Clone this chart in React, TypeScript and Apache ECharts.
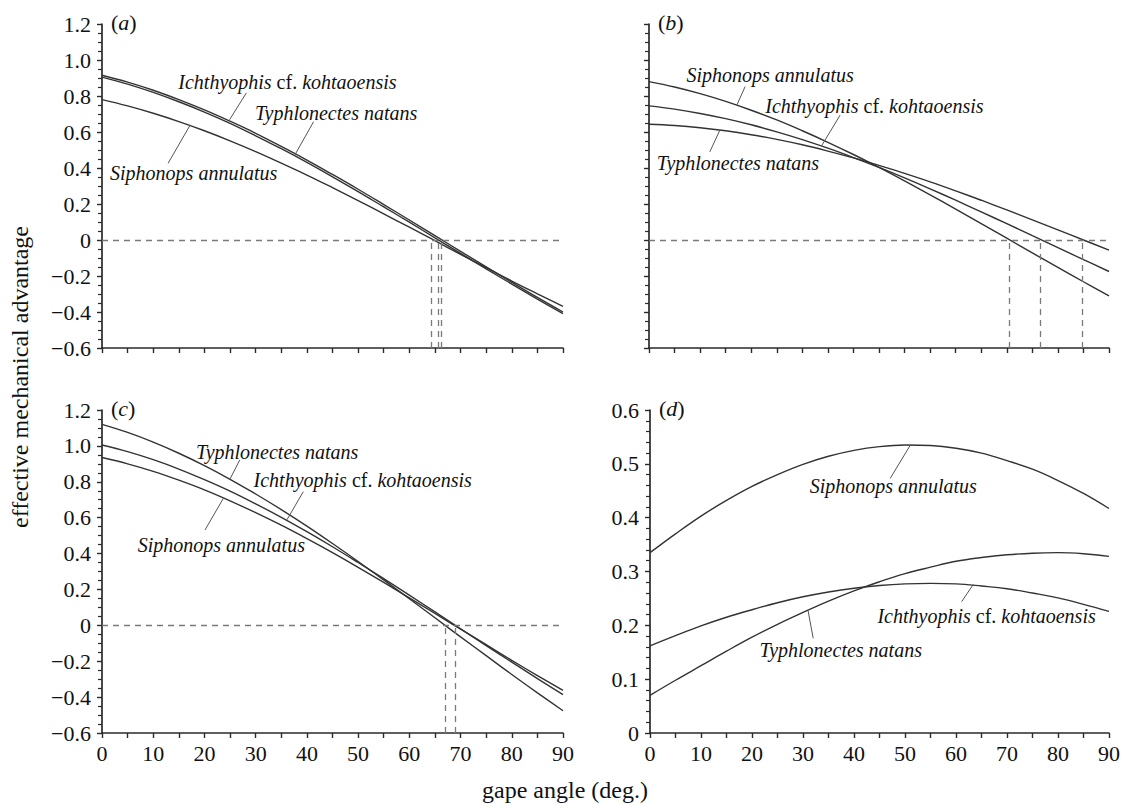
import React, { useEffect, useRef } from "react";
import * as echarts from "echarts";

// gape angle (deg.)
const DEG = [0, 5, 10, 15, 20, 25, 30, 35, 40, 45, 50, 55, 60, 65, 70, 75, 80, 85, 90];

// panel (a)
const A_ICH = [0.915, 0.877, 0.832, 0.78, 0.723, 0.66, 0.593, 0.52, 0.444, 0.364, 0.282, 0.197, 0.111, 0.024, -0.063, -0.149, -0.235, -0.319, -0.4];
const A_TYP = [0.905, 0.866, 0.82, 0.768, 0.711, 0.648, 0.579, 0.507, 0.431, 0.351, 0.269, 0.184, 0.099, 0.012, -0.074, -0.16, -0.245, -0.328, -0.409];
const A_SIP = [0.78, 0.745, 0.704, 0.658, 0.607, 0.551, 0.491, 0.427, 0.361, 0.291, 0.219, 0.145, 0.071, -0.004, -0.08, -0.154, -0.228, -0.299, -0.369];
const A_ZERO = [64.2, 65.7, 66.2];

// panel (b)
const B_SIP = [0.88, 0.85, 0.813, 0.77, 0.721, 0.667, 0.607, 0.543, 0.475, 0.403, 0.328, 0.251, 0.172, 0.091, 0.01, -0.072, -0.152, -0.232, -0.31];
const B_ICH = [0.745, 0.727, 0.703, 0.674, 0.64, 0.601, 0.558, 0.51, 0.458, 0.403, 0.345, 0.284, 0.221, 0.156, 0.091, 0.024, -0.043, -0.109, -0.175];
const B_TYP = [0.643, 0.636, 0.624, 0.607, 0.585, 0.559, 0.529, 0.494, 0.456, 0.415, 0.37, 0.323, 0.273, 0.221, 0.167, 0.112, 0.056, 0.0, -0.056];
const B_ZERO = [70.4, 76.5, 84.7];

// panel (c)
const C_TYP = [1.12, 1.075, 1.021, 0.959, 0.89, 0.814, 0.732, 0.645, 0.553, 0.456, 0.356, 0.253, 0.148, 0.042, -0.064, -0.169, -0.274, -0.376, -0.476];
const C_ICH = [1.005, 0.968, 0.923, 0.871, 0.812, 0.748, 0.677, 0.602, 0.522, 0.438, 0.35, 0.26, 0.168, 0.075, -0.019, -0.113, -0.205, -0.297, -0.386];
const C_SIP = [0.935, 0.9, 0.858, 0.809, 0.755, 0.694, 0.628, 0.558, 0.483, 0.405, 0.323, 0.239, 0.153, 0.066, -0.021, -0.108, -0.195, -0.28, -0.363];
const C_ZERO = [67.0, 69.0];

// panel (d)
const D_SIP = [0.335, 0.37, 0.403, 0.432, 0.458, 0.48, 0.499, 0.514, 0.525, 0.532, 0.535, 0.534, 0.529, 0.52, 0.506, 0.49, 0.469, 0.445, 0.417];
const D_ICH = [0.162, 0.181, 0.199, 0.215, 0.229, 0.242, 0.253, 0.262, 0.269, 0.274, 0.277, 0.278, 0.277, 0.273, 0.268, 0.26, 0.251, 0.239, 0.226];
const D_TYP = [0.07, 0.098, 0.125, 0.152, 0.178, 0.202, 0.224, 0.245, 0.264, 0.281, 0.296, 0.308, 0.319, 0.326, 0.331, 0.334, 0.335, 0.333, 0.328];

const LBL_ICH = "{i|Ichthyophis} cf. {i|kohtaoensis}";
const LBL_TYP = "{i|Typhlonectes natans}";
const LBL_SIP = "{i|Siphonops annulatus}";

const FONT = "Liberation Serif";
const LINE_COLOR = "#333333";
const AXIS_COLOR = "#2a2a2a";
const DASH_COLOR = "#7a7a7a";

// annotation placement: [label center], [pointer start], [pointer end] in data units
type Ann = { text: string; at: number[]; p1: number[]; p2: number[] };

const PANELS = [
  {
    grid: { left: 102, top: 24, width: 461, height: 324 },
    y: { min: -0.6, max: 1.2, interval: 0.2, minor: 4, labels: true },
    xLabels: false,
    tag: "a",
    zero: A_ZERO,
    series: [
      { v: A_ICH, ann: { text: LBL_ICH, at: [36.2, 0.878], p1: [28.2, 0.818], p2: [24.9, 0.668] } },
      { v: A_TYP, ann: { text: LBL_TYP, at: [45.7, 0.705], p1: [41.3, 0.657], p2: [37.7, 0.475] } },
      { v: A_SIP, ann: { text: LBL_SIP, at: [17.9, 0.372], p1: [12.9, 0.426], p2: [17.2, 0.638] } },
    ],
  },
  {
    grid: { left: 649, top: 24, width: 460, height: 324 },
    y: { min: -0.6, max: 1.2, interval: 0.2, minor: 4, labels: false },
    xLabels: false,
    tag: "b",
    zero: B_ZERO,
    series: [
      { v: B_SIP, ann: { text: LBL_SIP, at: [23.7, 0.917], p1: [18.8, 0.852], p2: [17.2, 0.75] } },
      { v: B_ICH, ann: { text: LBL_ICH, at: [44.1, 0.744], p1: [37.4, 0.694], p2: [33.8, 0.525] } },
      { v: B_TYP, ann: { text: LBL_TYP, at: [17.4, 0.427], p1: [11.9, 0.49], p2: [13.9, 0.612] } },
    ],
  },
  {
    grid: { left: 102, top: 410, width: 461, height: 323 },
    y: { min: -0.6, max: 1.2, interval: 0.2, minor: 4, labels: true },
    xLabels: true,
    tag: "c",
    zero: C_ZERO,
    series: [
      { v: C_TYP, ann: { text: LBL_TYP, at: [34.2, 0.968], p1: [26.9, 0.922], p2: [25.0, 0.816] } },
      { v: C_ICH, ann: { text: LBL_ICH, at: [50.9, 0.81], p1: [39.3, 0.745], p2: [36.1, 0.588] } },
      { v: C_SIP, ann: { text: LBL_SIP, at: [23.3, 0.447], p1: [20.1, 0.531], p2: [23.7, 0.708] } },
    ],
  },
  {
    grid: { left: 650, top: 410, width: 459, height: 323 },
    y: { min: 0, max: 0.6, interval: 0.1, minor: 5, labels: true },
    xLabels: true,
    tag: "d",
    zero: [] as number[],
    series: [
      { v: D_SIP, ann: { text: LBL_SIP, at: [47.7, 0.458], p1: [47.1, 0.473], p2: [51.0, 0.534] } },
      { v: D_ICH, ann: { text: LBL_ICH, at: [66.0, 0.2175], p1: [61.1, 0.244], p2: [63.4, 0.276] } },
      { v: D_TYP, ann: { text: LBL_TYP, at: [37.4, 0.154], p1: [32.0, 0.176], p2: [31.0, 0.227] } },
    ],
  },
];

function fmtY(v: number) {
  if (Math.abs(v) < 1e-9) return "0";
  return (v < 0 ? "\u2212" : "") + Math.abs(v).toFixed(1);
}

export default function App() {
  const ref = useRef<HTMLDivElement>(null);
  useEffect(() => {
    if (!ref.current) return;
    const chart = echarts.init(ref.current, undefined, { renderer: "svg" });

    const grids: any[] = [];
    const xAxes: any[] = [];
    const yAxes: any[] = [];
    const series: any[] = [];
    const graphics: any[] = [];

    const rich = {
      i: { fontStyle: "italic", fontFamily: FONT, fontSize: 20, color: "#111" },
    };

    PANELS.forEach((p, k) => {
      grids.push({ ...p.grid });
      xAxes.push({
        type: "value",
        gridIndex: k,
        min: 0,
        max: 90,
        interval: 10,
        axisLine: { show: true, onZero: false, lineStyle: { color: AXIS_COLOR, width: 1.7 } },
        axisTick: { show: true, inside: false, length: 5, lineStyle: { color: AXIS_COLOR, width: 1.4 } },
        minorTick: { show: true, splitNumber: 2, length: 5, lineStyle: { color: AXIS_COLOR, width: 1.4 } },
        splitLine: { show: false },
        minorSplitLine: { show: false },
        axisLabel: {
          show: p.xLabels,
          margin: 9,
          fontFamily: FONT,
          fontSize: 22,
          color: "#111",
          formatter: (v: number) => String(Math.round(v)),
        },
      });
      yAxes.push({
        type: "value",
        gridIndex: k,
        min: p.y.min,
        max: p.y.max,
        interval: p.y.interval,
        axisLine: { show: true, onZero: false, lineStyle: { color: AXIS_COLOR, width: 1.7 } },
        axisTick: { show: true, inside: false, length: 5, lineStyle: { color: AXIS_COLOR, width: 1.4 } },
        minorTick: { show: true, splitNumber: p.y.minor, length: 4, lineStyle: { color: AXIS_COLOR, width: 1.2 } },
        splitLine: { show: false },
        minorSplitLine: { show: false },
        axisLabel: {
          show: p.y.labels,
          margin: 11,
          fontFamily: FONT,
          fontSize: 22,
          color: "#111",
          formatter: (v: number) => fmtY(v),
        },
      });

      // helper series for dashed reference lines
      const refLines: any[] = [];
      if (p.y.min < 0) {
        refLines.push({ yAxis: 0 });
        p.zero.forEach((z) => {
          refLines.push([{ coord: [z, p.y.min] }, { coord: [z, 0] }]);
        });
      }
      series.push({
        type: "line",
        xAxisIndex: k,
        yAxisIndex: k,
        data: [],
        silent: true,
        markLine: {
          silent: true,
          symbol: ["none", "none"],
          label: { show: false },
          lineStyle: { type: [6, 5], color: DASH_COLOR, width: 1.3 },
          data: refLines,
        },
      });

      p.series.forEach((s) => {
        const a: Ann = s.ann;
        series.push({
          type: "line",
          xAxisIndex: k,
          yAxisIndex: k,
          data: DEG.map((d, i) => [d, s.v[i]]),
          smooth: 0.4,
          showSymbol: false,
          symbol: "none",
          silent: true,
          lineStyle: { color: LINE_COLOR, width: 1.4 },
          z: 3,
          markLine: {
            silent: true,
            symbol: ["none", "none"],
            label: { show: false },
            lineStyle: { type: "solid", color: "#555", width: 1 },
            data: [[{ coord: a.p1 }, { coord: a.p2 }]],
          },
          markPoint: {
            silent: true,
            symbol: "circle",
            symbolSize: 0,
            itemStyle: { color: "rgba(0,0,0,0)" },
            label: {
              show: true,
              position: "inside",
              formatter: a.text,
              fontFamily: FONT,
              fontSize: 20,
              color: "#111",
              rich,
            },
            data: [{ coord: a.at }],
          },
        });
      });

      graphics.push({
        type: "text",
        left: p.grid.left + 9,
        top: p.grid.top - 13,
        style: {
          text: "({i|" + p.tag + "})",
          fontFamily: FONT,
          fontSize: 22,
          fill: "#111",
          rich: { i: { fontStyle: "italic", fontFamily: FONT, fontSize: 22, fill: "#111" } },
        },
      });
    });

    graphics.push({
      type: "text",
      x: 20,
      y: 377,
      rotation: Math.PI / 2,
      style: {
        text: "effective mechanical advantage",
        fontFamily: FONT,
        fontSize: 24,
        fill: "#111",
        align: "center",
        verticalAlign: "middle",
      },
    });
    graphics.push({
      type: "text",
      x: 565,
      y: 790,
      style: {
        text: "gape angle (deg.)",
        fontFamily: FONT,
        fontSize: 24,
        fill: "#111",
        align: "center",
        verticalAlign: "middle",
      },
    });

    chart.setOption({
      animation: false,
      backgroundColor: "#fff",
      textStyle: { fontFamily: FONT },
      grid: grids,
      xAxis: xAxes,
      yAxis: yAxes,
      series,
      graphic: graphics,
    });
    return () => chart.dispose();
  }, []);
  return (
    <div
      ref={ref}
      style={{ position: "fixed", left: 0, top: 0, width: 1123, height: 805, background: "#fff" }}
    />
  );
}
